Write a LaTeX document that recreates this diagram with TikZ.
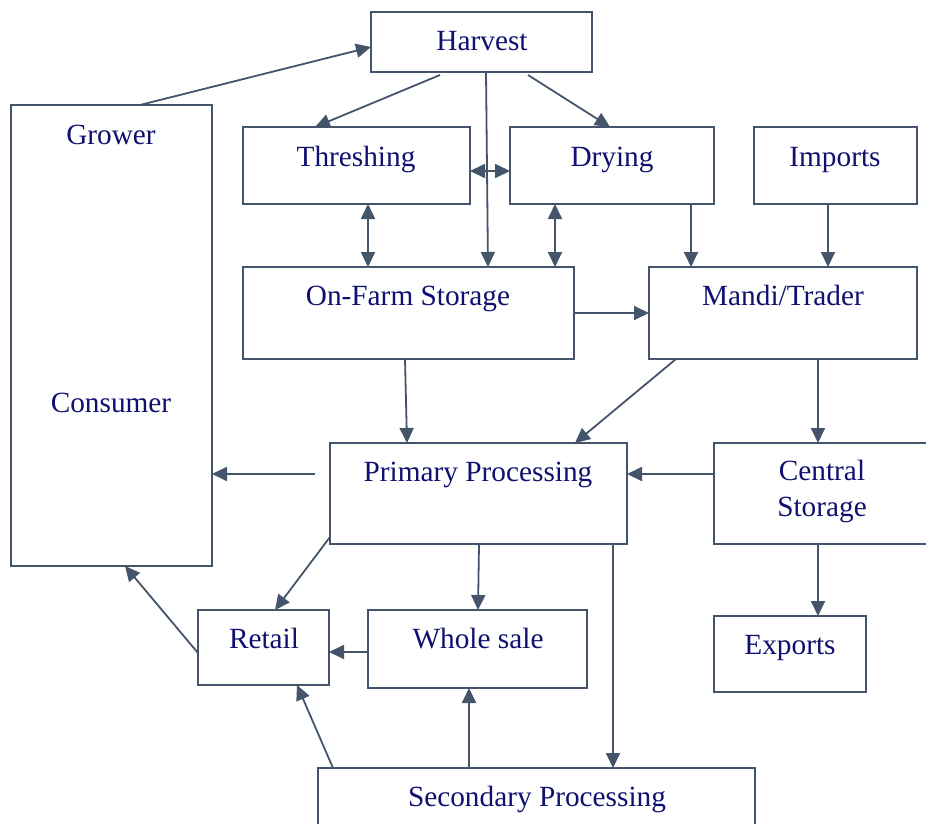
\documentclass[tikz,border=0pt]{standalone}
\usepackage{fontspec}
\setmainfont{Liberation Serif}
\usetikzlibrary{arrows.meta}
\definecolor{linec}{RGB}{68,84,106}
\definecolor{txtc}{RGB}{16,16,112}
\begin{document}
\begin{tikzpicture}[x=1pt,y=-1pt,
  box/.style={draw=linec,line width=1.8pt,inner sep=0pt,outer sep=0pt,fill=white},
  lbl/.style={text=txtc,anchor=base,inner sep=0pt,font=\fontsize{29.3}{35}\selectfont},
  flow/.style={draw=linec,line width=1.8pt,-{Triangle[length=15pt,width=14pt]}},
  both/.style={draw=linec,line width=1.8pt,{Triangle[length=15pt,width=14pt]}-{Triangle[length=15pt,width=14pt]}}]
\useasboundingbox (0,0) rectangle (926,824);
\clip (0,0) rectangle (926,824);

% boxes
\node[box,minimum width=221pt,minimum height=60pt] (harvest) at (481.5,42) {};
\node[box,minimum width=201pt,minimum height=461pt] (grower) at (111.5,335.5) {};
\node[box,minimum width=227pt,minimum height=77pt] (thresh) at (356.5,165.5) {};
\node[box,minimum width=204pt,minimum height=77pt] (drying) at (612,165.5) {};
\node[box,minimum width=163pt,minimum height=77pt] (imports) at (835.5,165.5) {};
\node[box,minimum width=331pt,minimum height=92pt] (onfarm) at (408.5,313) {};
\node[box,minimum width=268pt,minimum height=92pt] (mandi) at (783,313) {};
\node[box,minimum width=297pt,minimum height=101pt] (primary) at (478.5,493.5) {};
\node[box,minimum width=246pt,minimum height=101pt] (central) at (837,493.5) {};
\node[box,minimum width=152pt,minimum height=76pt] (exports) at (790,654) {};
\node[box,minimum width=131pt,minimum height=75pt] (retail) at (263.5,647.5) {};
\node[box,minimum width=219pt,minimum height=78pt] (whole) at (477.5,649) {};
\node[box,minimum width=437pt,minimum height=92pt] (secondary) at (536.5,814) {};

% labels
\node[lbl] (harvest-t) at (482,51) {Harvest};
\node[lbl] (grower-t) at (111,144) {Grower};
\node[lbl] (consumer-t) at (111,412) {Consumer};
\node[lbl] (thresh-t) at (356,166) {Threshing};
\node[lbl] (drying-t) at (612,166) {Drying};
\node[lbl] (imports-t) at (835,166) {Imports};
\node[lbl] (onfarm-t) at (408,305) {On-Farm Storage};
\node[lbl] (mandi-t) at (783,305) {Mandi/Trader};
\node[lbl] (primary-t) at (478,481) {Primary Processing};
\node[lbl] (central-t1) at (822,480) {Central};
\node[lbl] (central-t2) at (822,516) {Storage};
\node[lbl] (exports-t) at (790,654) {Exports};
\node[lbl] (retail-t) at (264,648) {Retail};
\node[lbl] (whole-t) at (478,648) {Whole sale};
\node[lbl] (secondary-t) at (537,806) {Secondary Processing};

\coordinate (pp-out) at (315,474);

% connectors
\draw[flow] (140,0 |- grower.north) -- (0,47 -| harvest.west);
\draw[flow] (440,75) -- (315,0 |- thresh.north);
\draw[flow] (528,75) -- (610,0 |- drying.north);
\draw[flow] (486,0 |- harvest.south) -- (488,0 |- onfarm.north);
\draw[both] (0,171 -| thresh.east) -- (0,171 -| drying.west);
\draw[both] (368,0 |- thresh.south) -- (368,0 |- onfarm.north);
\draw[both] (555,0 |- drying.south) -- (555,0 |- onfarm.north);
\draw[flow] (691,0 |- drying.south) -- (691,0 |- mandi.north);
\draw[flow] (828,0 |- imports.south) -- (828,0 |- mandi.north);
\draw[flow] (0,313 -| onfarm.east) -- (0,313 -| mandi.west);
\draw[flow] (405,0 |- onfarm.south) -- (407,0 |- primary.north);
\draw[flow] (676,0 |- mandi.south) -- (575,0 |- primary.north);
\draw[flow] (818,0 |- mandi.south) -- (818,0 |- central.north);
\draw[flow] (pp-out) -- (0,474 -| grower.east);
\draw[flow] (0,474 -| central.west) -- (0,474 -| primary.east);
\draw[flow] (818,0 |- central.south) -- (818,0 |- exports.north);
\draw[flow] (0,537 -| primary.west) -- (275,0 |- retail.north);
\draw[flow] (479,0 |- primary.south) -- (478,0 |- whole.north);
\draw[flow] (613,0 |- primary.south) -- (613,0 |- secondary.north);
\draw[flow] (0,652 -| whole.west) -- (0,652 -| retail.east);
\draw[flow] (0,653 -| retail.west) -- (125,0 |- grower.south);
\draw[flow] (333,0 |- secondary.north) -- (297,0 |- retail.south);
\draw[flow] (469,0 |- secondary.north) -- (469,0 |- whole.south);
\end{tikzpicture}
\end{document}
